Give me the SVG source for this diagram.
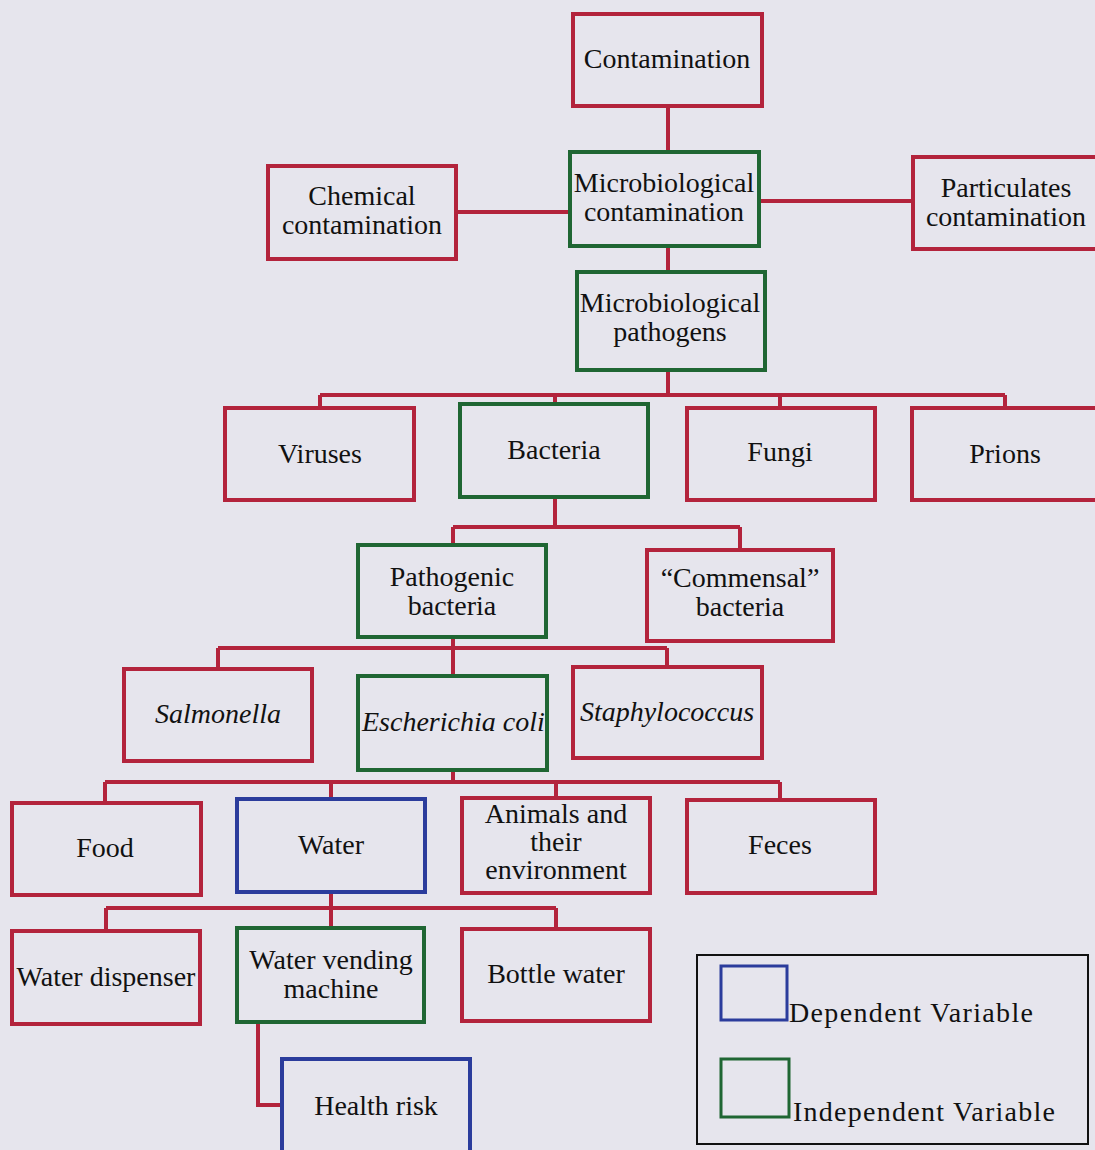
<svg xmlns="http://www.w3.org/2000/svg" width="1095" height="1150" viewBox="0 0 1095 1150">
<style>
.bg{fill:#e6e5ed}
.n rect{fill:none;stroke-width:4}
.r rect{stroke:#b3233c}
.g rect{stroke:#1f6633}
.b rect{stroke:#2b3c9c}
text{font-family:"Liberation Serif","Times New Roman",serif;font-size:28px;fill:#111;text-anchor:middle}
.it{font-style:italic}
.conn path{fill:none;stroke:#b3233c;stroke-width:4}
.lg text{text-anchor:start}
</style>
<rect class="bg" x="0" y="0" width="1095" height="1150"/>
<g class="conn" id="connectors">
<path d="M668,106 V152"/>
<path d="M456,212 H570"/>
<path d="M759,201 H913"/>
<path d="M668,246 V272"/>
<path d="M668,370 V395"/>
<path d="M320,395 H1005 M320,395 V408 M555,395 V404 M780,395 V408 M1005,395 V408"/>
<path d="M555,497 V527 M453,527 H740 M453,527 V545 M740,527 V550"/>
<path d="M453,637 V648 M218,648 H667 M218,648 V669 M453,648 V676 M667,648 V667"/>
<path d="M453,770 V782 M105,782 H780 M105,782 V803 M331,782 V799 M556,782 V798 M780,782 V800"/>
<path d="M331,892 V908 M106,908 H556 M106,908 V931 M331,908 V928 M556,908 V929"/>
<path d="M258,1022 V1105 H282"/>
</g>
<g id="contamination" class="n r"><rect x="573" y="14" width="189" height="92"/><text x="667" y="68">Contamination</text></g>
<g id="chemical" class="n r"><rect x="268" y="166" width="188" height="93"/><text x="362" y="205">Chemical</text><text x="362" y="234">contamination</text></g>
<g id="micro-contamination" class="n g"><rect x="570" y="152" width="189" height="94"/><text x="664" y="192">Microbiological</text><text x="664" y="221">contamination</text></g>
<g id="particulates" class="n r"><rect x="913" y="157" width="190" height="92"/><text x="1006" y="197">Particulates</text><text x="1006" y="226">contamination</text></g>
<g id="micro-pathogens" class="n g"><rect x="577" y="272" width="188" height="98"/><text x="670" y="312">Microbiological</text><text x="670" y="341">pathogens</text></g>
<g id="viruses" class="n r"><rect x="225" y="408" width="189" height="92"/><text x="320" y="463">Viruses</text></g>
<g id="bacteria" class="n g"><rect x="460" y="404" width="188" height="93"/><text x="554" y="459">Bacteria</text></g>
<g id="fungi" class="n r"><rect x="687" y="408" width="188" height="92"/><text x="780" y="461">Fungi</text></g>
<g id="prions" class="n r"><rect x="912" y="408" width="190" height="92"/><text x="1005" y="463">Prions</text></g>
<g id="pathogenic" class="n g"><rect x="358" y="545" width="188" height="92"/><text x="452" y="586">Pathogenic</text><text x="452" y="615">bacteria</text></g>
<g id="commensal" class="n r"><rect x="647" y="550" width="186" height="91"/><text x="740" y="587">“Commensal”</text><text x="740" y="616">bacteria</text></g>
<g id="salmonella" class="n r"><rect x="124" y="669" width="188" height="92"/><text class="it" x="218" y="723">Salmonella</text></g>
<g id="ecoli" class="n g"><rect x="358" y="676" width="189" height="94"/><text class="it" x="362" y="731" style="text-anchor:start">Escherichia coli</text></g>
<g id="staphylococcus" class="n r"><rect x="573" y="667" width="189" height="91"/><text class="it" x="667" y="721">Staphylococcus</text></g>
<g id="food" class="n r"><rect x="12" y="803" width="189" height="92"/><text x="105" y="857">Food</text></g>
<g id="water" class="n b"><rect x="237" y="799" width="188" height="93"/><text x="331" y="854">Water</text></g>
<g id="animals" class="n r"><rect x="462" y="798" width="188" height="95"/><text x="556" y="823">Animals and</text><text x="556" y="851">their</text><text x="556" y="879">environment</text></g>
<g id="feces" class="n r"><rect x="687" y="800" width="188" height="93"/><text x="780" y="854">Feces</text></g>
<g id="water-dispenser" class="n r"><rect x="12" y="931" width="188" height="93"/><text x="106" y="986">Water dispenser</text></g>
<g id="water-vending" class="n g"><rect x="237" y="928" width="187" height="94"/><text x="331" y="969">Water vending</text><text x="331" y="998">machine</text></g>
<g id="bottle-water" class="n r"><rect x="462" y="929" width="188" height="92"/><text x="556" y="983">Bottle water</text></g>
<g id="health-risk" class="n b"><rect x="282" y="1059" width="188" height="100"/><text x="376" y="1115">Health risk</text></g>
<g id="legend" class="lg">
<rect x="697" y="955" width="391" height="189" fill="none" stroke="#111" stroke-width="2"/>
<rect x="721" y="966" width="66" height="54" fill="none" stroke="#2b3c9c" stroke-width="3"/>
<text x="789" y="1022" textLength="244" lengthAdjust="spacing">Dependent Variable</text>
<rect x="721" y="1059" width="68" height="58" fill="none" stroke="#1f6633" stroke-width="3"/>
<text x="793" y="1121" textLength="262" lengthAdjust="spacing">Independent Variable</text>
</g>
</svg>
